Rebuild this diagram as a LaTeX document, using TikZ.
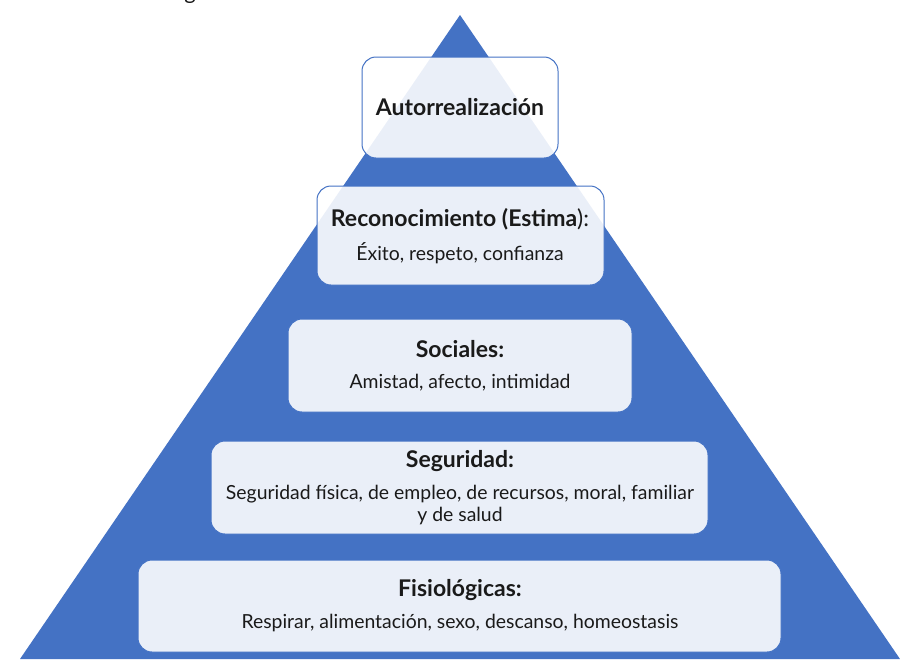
\documentclass[tikz,border=0pt]{standalone}
\usepackage{fontspec}
\setmainfont{Lato}
\definecolor{pyrblue}{RGB}{68,114,196}
\definecolor{txt}{RGB}{26,26,26}
\begin{document}
\begin{tikzpicture}[x=1pt,y=-1pt,
  lvl/.style={draw=pyrblue, line width=1pt, fill=white, fill opacity=0.89, text opacity=1, rounded corners=14pt, inner sep=0pt},
  ttl/.style={font=\fontsize{23}{26}\selectfont\bfseries, text=txt, inner sep=0pt},
  sub/.style={font=\fontsize{19.4}{22}\selectfont, text=txt, inner sep=0pt, align=center}]
\useasboundingbox (0,0) rectangle (900,659);
\clip (0,0) rectangle (900,659);
\node[font=\fontsize{22}{26}\selectfont, text=txt, anchor=base, inner sep=0pt] (cap) at (190,-1) {g};
\fill[pyrblue] (460,15) -- (20,659) -- (900,659) -- cycle;
% levels
\node[lvl, minimum width=196, minimum height=101] (b1) at (460,107.5) {};
\node[lvl, minimum width=287, minimum height=99] (b2) at (460.5,235.5) {};
\node[lvl, minimum width=344, minimum height=93] (b3) at (460,365.5) {};
\node[lvl, minimum width=497, minimum height=93] (b4) at (459.5,487.5) {};
\node[lvl, minimum width=643, minimum height=92] (b5) at (459.5,606) {};
% texts
\node[ttl] (t1) at (460,107) {Autorrealización};
\node[ttl] (t2) at (460,219) {Reconocimiento (Estima\textmd{):}};
\node[sub] (s2) at (460,253) {Éxito, respeto, confianza};
\node[ttl] (t3) at (460,349) {Sociales:};
\node[sub] (s3) at (460,383) {Amistad, afecto, intimidad};
\node[ttl] (t4) at (460,461) {Seguridad:};
\node[sub] (s4) at (460,505) {Seguridad física, de empleo, de recursos, moral, familiar\\y de salud};
\node[ttl] (t5) at (460,590) {Fisiológicas:};
\node[sub] (s5) at (460,623) {Respirar, alimentación, sexo, descanso, homeostasis};
\end{tikzpicture}
\end{document}
